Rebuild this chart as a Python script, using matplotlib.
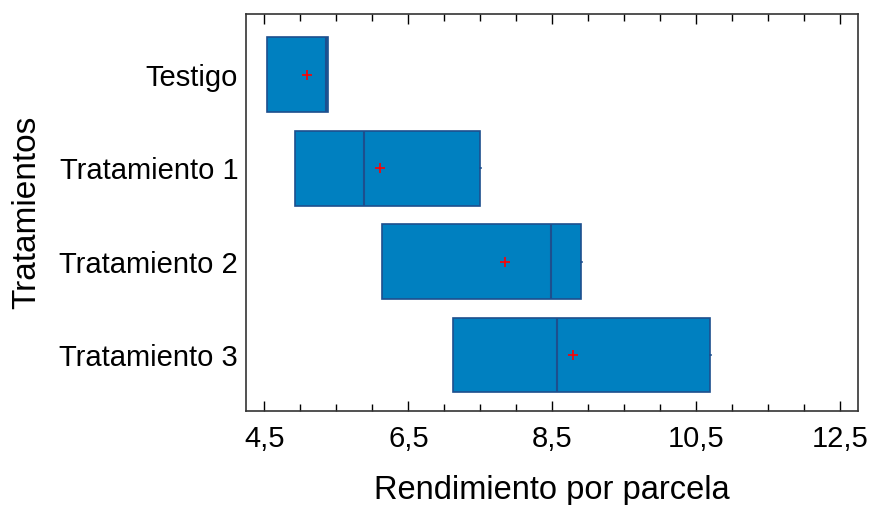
import matplotlib
matplotlib.use('Agg')
import matplotlib.pyplot as plt
from matplotlib.ticker import MultipleLocator

plt.rcParams['font.family'] = ['Liberation Sans', 'DejaVu Sans']

# Data
tratamientos = ['Testigo', 'Tratamiento 1', 'Tratamiento 2', 'Tratamiento 3']
q1 = [4.53, 4.93, 6.14, 7.12]
mediana = [5.35, 5.88, 8.49, 8.57]
q3 = [5.38, 7.50, 8.90, 10.70]
minimo = [4.53, 4.93, 6.14, 7.12]
maximo = [5.39, 7.51, 8.91, 10.71]
media = [5.09, 6.11, 7.84, 8.79]

box_fill = '#0080C0'
box_edge = '#1D4F8E'

fig, ax = plt.subplots(figsize=(8.71, 5.05), dpi=100)
fig.subplots_adjust(left=0.283, right=0.985, top=0.972, bottom=0.186)

positions = list(range(len(tratamientos), 0, -1))
stats = []
for i, name in enumerate(tratamientos):
    stats.append(dict(label=name, q1=q1[i], med=mediana[i], q3=q3[i],
                      whislo=minimo[i], whishi=maximo[i], mean=media[i], fliers=[]))

ax.bxp(stats, positions=positions, vert=False, widths=0.8, patch_artist=True,
       showmeans=True, showcaps=False,
       boxprops=dict(facecolor=box_fill, edgecolor=box_edge, linewidth=1.2),
       medianprops=dict(color=box_edge, linewidth=1.5),
       whiskerprops=dict(color=box_edge, linewidth=1.2),
       meanprops=dict(marker='+', markeredgecolor='red', markersize=7, markeredgewidth=1.2))

ax.set_xlim(4.25, 12.75)
ax.set_ylim(0.4, 4.65)
ax.xaxis.set_minor_locator(MultipleLocator(0.5))
ax.set_xticks([4.5, 6.5, 8.5, 10.5, 12.5])
ax.set_xticklabels(['4,5', '6,5', '8,5', '10,5', '12,5'])
ax.set_yticks(positions)
ax.set_yticklabels(tratamientos)

ax.tick_params(axis='x', which='both', direction='in', top=True, bottom=True, labelsize=21, pad=10)
ax.tick_params(axis='x', which='major', length=7, width=1)
ax.tick_params(axis='x', which='minor', length=5, width=1)
ax.tick_params(axis='y', length=0, labelsize=21, pad=6)

for s in ax.spines.values():
    s.set_color('#333333')
    s.set_linewidth(1.2)

ax.set_xlabel('Rendimiento por parcela', fontsize=23.5, labelpad=16)
ax.set_ylabel('Tratamientos', fontsize=24, labelpad=12)

plt.savefig('out.png', dpi=100, facecolor='white')
